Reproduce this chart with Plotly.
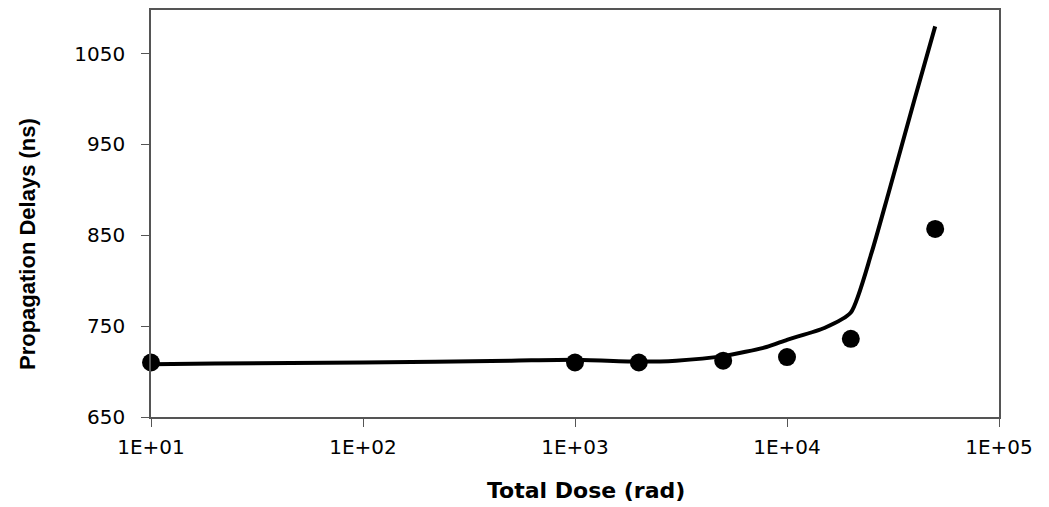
import plotly.graph_objects as go

# Measured data points (dots)
dose_pts = [10, 1000, 2000, 5000, 10000, 20000, 50000]
delay_pts = [710, 710, 710, 712, 716, 736, 857]

# Model curve (line)
dose_line = [10, 20, 100, 500, 1000, 2000, 3000, 5000, 8000, 10000, 15000, 20000, 25000, 30000, 40000, 50000]
delay_line = [708, 709, 710, 712, 713, 711, 712, 717, 727, 735, 748, 765, 830, 895, 1000, 1080]

x_tickvals = [10, 100, 1000, 10000, 100000]
x_ticktext = ["1E+01", "1E+02", "1E+03", "1E+04", "1E+05"]
y_tickvals = [650, 750, 850, 950, 1050]

tick_font = "DejaVu Sans, Arial, sans-serif"
title_font = "Liberation Sans, Arial, sans-serif"

fig = go.Figure()
fig.add_trace(go.Scatter(
    x=dose_line, y=delay_line, mode="lines",
    line=dict(color="black", width=4, shape="spline", smoothing=0.6),
    showlegend=False, hoverinfo="skip"))
fig.add_trace(go.Scatter(
    x=dose_pts, y=delay_pts, mode="markers",
    marker=dict(color="black", size=18, symbol="circle"),
    showlegend=False, cliponaxis=False))

# The page body has an 8px margin; compensate so the plot frame lands at 151..999 x 10..417
fig.update_layout(
    width=1041, height=499,
    margin=dict(l=143, r=50, t=2, b=90, autoexpand=False),
    paper_bgcolor="white", plot_bgcolor="white",
    font=dict(family=tick_font, color="black", size=20),
    xaxis=dict(
        type="log", range=[1, 5], automargin=False,
        tickvals=x_tickvals, ticktext=x_ticktext,
        ticks="outside", ticklen=8, tickcolor="#555", tickwidth=1,
        showline=True, linecolor="#555", linewidth=1.5, mirror=True,
        showgrid=False, zeroline=False,
        tickfont=dict(size=20),
        ticklabelstandoff=3,
    ),
    yaxis=dict(
        range=[650, 1098], automargin=False,
        tickvals=y_tickvals,
        ticks="outside", ticklen=8, tickcolor="#555", tickwidth=1,
        showline=True, linecolor="#555", linewidth=1.5, mirror=True,
        showgrid=False, zeroline=False,
        tickfont=dict(size=20),
        ticklabelstandoff=12,
    ),
    annotations=[
        dict(text="<b>Total Dose (rad)</b>", xref="paper", yref="paper",
             x=(586 - 151) / 848, y=-(490 - 417) / 407, xanchor="center", yanchor="middle",
             showarrow=False, font=dict(family=tick_font, size=22, color="black")),
        dict(text="<b>Propagation Delays (ns)</b>", xref="paper", yref="paper",
             x=-(151 - 27) / 848, y=1 - (244 - 10) / 407, xanchor="center", yanchor="middle",
             textangle=-90, showarrow=False,
             font=dict(family=title_font, size=22, color="black")),
    ],
)

fig.write_html("out.html")
